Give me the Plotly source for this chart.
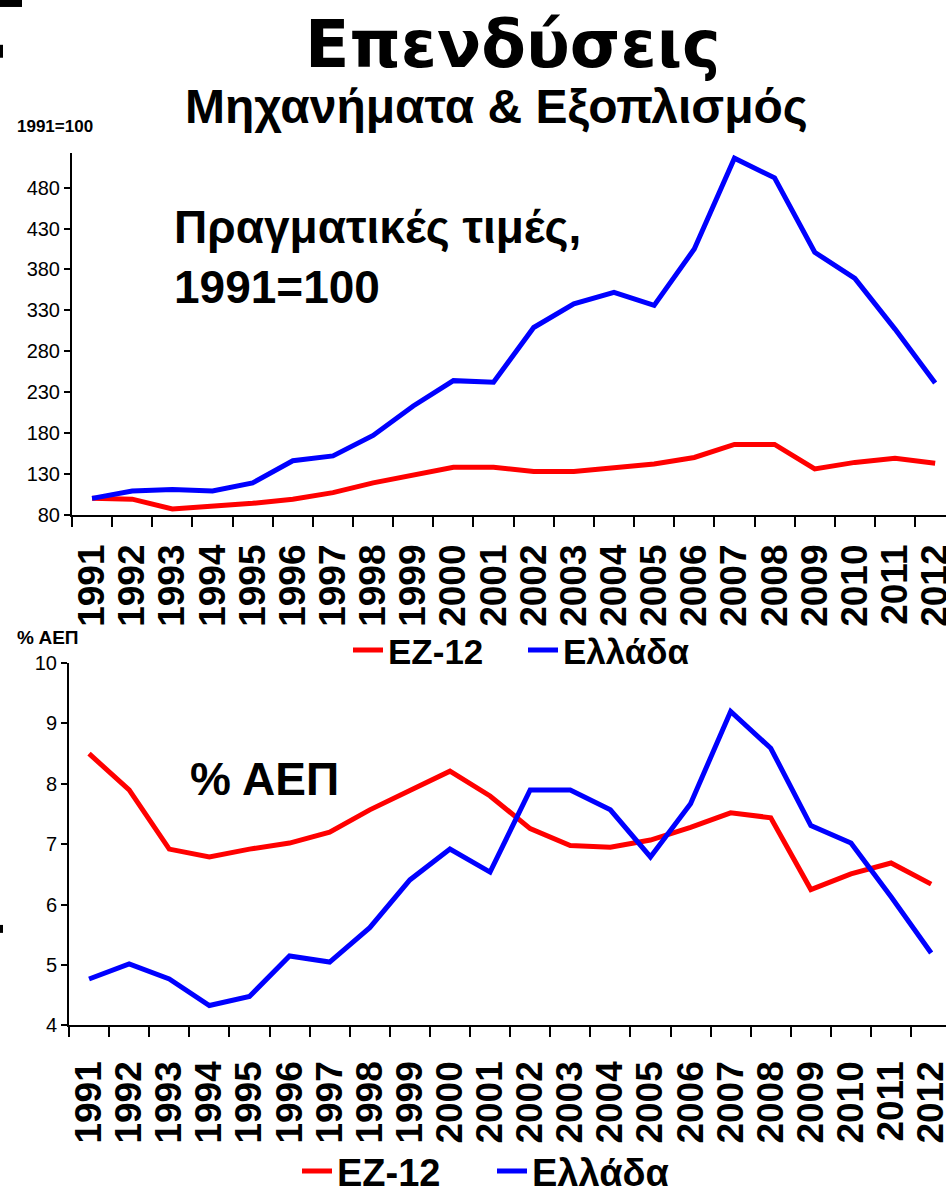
import plotly.graph_objects as go

W, H = 946, 1203

years = [str(y) for y in range(1991, 2013)]

# Real values, 1991=100
ez_index = [100, 99, 87, 90, 94, 99, 107, 119, 128, 138, 138, 133, 133, 138, 142, 150, 166, 166, 136, 144, 149, 143]
gr_index = [100, 109, 111, 109, 119, 146, 152, 177, 213, 244, 242, 309, 338, 352, 336, 405, 516, 492, 401, 369, 307, 241]

# % of GDP
ez_gdp = [8.5, 7.9, 6.92, 6.79, 6.92, 7.02, 7.2, 7.57, 7.89, 8.21, 7.8, 7.26, 6.98, 6.95, 7.07, 7.28, 7.52, 7.44, 6.25, 6.51, 6.69, 6.34]
gr_gdp = [4.77, 5.02, 4.77, 4.33, 4.48, 5.15, 5.05, 5.62, 6.41, 6.92, 6.54, 7.9, 7.9, 7.57, 6.79, 7.67, 9.2, 8.59, 7.31, 7.02, 6.13, 5.2]

names = ['ΕΖ-12', 'Ελλάδα']
colors = ['#ff0000', '#0000ff']

FONT = 'Liberation Sans, Arial, sans-serif'

# the captured page comes out slightly squeezed vertically, so stretch y positions to match
YK = 1219 / 1203


def px(x):
    return x / W


def py(y):
    return max(0.0, 1 - y * YK / H)


fig = go.Figure()
for name, color, vals in zip(names, colors, [ez_index, gr_index]):
    fig.add_trace(go.Scatter(x=years, y=vals, name=name, mode='lines',
                             line=dict(color=color, width=5),
                             xaxis='x', yaxis='y', legend='legend'))
for name, color, vals in zip(names, colors, [ez_gdp, gr_gdp]):
    fig.add_trace(go.Scatter(x=years, y=vals, name=name, mode='lines',
                             line=dict(color=color, width=5),
                             xaxis='x2', yaxis='y2', legend='legend2'))

xcommon = dict(type='category', tickmode='array', tickvals=years, ticktext=years,
               tickson='boundaries', ticks='outside', ticklen=10,
               tickwidth=2, tickcolor='black', showline=True, linecolor='black', linewidth=2,
               showgrid=False, zeroline=False, tickangle=-90, automargin=False,
               tickfont=dict(family=FONT, size=37, color='black', weight='bold'))
ycommon = dict(ticks='outside', ticklen=6, tickwidth=2, tickcolor='black', showline=True,
               linecolor='black', linewidth=2, showgrid=False, zeroline=False, automargin=False,
               tickfont=dict(family=FONT, size=20, color='black'))

fig.update_layout(
    width=W, height=H,
    margin=dict(l=0, r=0, t=0, b=0),
    paper_bgcolor='white', plot_bgcolor='white',
    showlegend=True,
    xaxis=dict(xcommon, domain=[px(72), 1], range=[-0.5, 21.27], anchor='y', ticklabelstandoff=13),
    yaxis=dict(ycommon, domain=[py(517), py(154)], range=[80, 522], tick0=80, dtick=50, anchor='x'),
    xaxis2=dict(xcommon, domain=[px(69), 1], range=[-0.5, 21.37], anchor='y2', ticklabelstandoff=19),
    yaxis2=dict(ycommon, domain=[py(1030), py(666)], range=[4, 10], dtick=1, anchor='x2'),
    legend=dict(orientation='h', x=px(348), xanchor='left', y=py(653), yanchor='middle',
                entrywidth=130, font=dict(family=FONT, size=35, color='black', weight='bold'),
                bgcolor='rgba(0,0,0,0)'),
    legend2=dict(orientation='h', x=px(297), xanchor='left', y=1 - 1192 / H, yanchor='middle',
                 entrywidth=150, font=dict(family=FONT, size=38, color='black', weight='bold'),
                 bgcolor='rgba(0,0,0,0)'),
)

annotations = [
    dict(text='<b>Επενδύσεις</b>', x=px(513), y=py(45), font=dict(family='DejaVu Sans', size=65)),
    dict(text='<b>Μηχανήματα & Εξοπλισμός</b>', x=px(497), y=py(107), font=dict(family=FONT, size=48)),
    dict(text='<b>1991=100</b>', x=px(15), y=py(127), xanchor='left', font=dict(family=FONT, size=17)),
    dict(text='<b>Πραγματικές τιμές,<br>1991=100</b>', x=px(172), y=py(258), xanchor='left', align='left',
         font=dict(family=FONT, size=46)),
    dict(text='<b>% ΑΕΠ</b>', x=px(15), y=py(640), xanchor='left', font=dict(family=FONT, size=19)),
    dict(text='<b>% ΑΕΠ</b>', x=px(188), y=py(782), xanchor='left', font=dict(family=FONT, size=46)),
]
for a in annotations:
    a.setdefault('xanchor', 'center')
    a['font'].setdefault('color', 'black')
    fig.add_annotation(xref='paper', yref='paper', yanchor='middle', showarrow=False, **a)

# cropped slide artefacts on the left edge
for x0, y0, x1, y1 in [(0, 0, 22, 7), (0, 45, 3, 58), (0, 929, 3, 937)]:
    fig.add_shape(type='rect', xref='paper', yref='paper', x0=px(x0), x1=px(x1), y0=py(y1), y1=py(y0),
                  fillcolor='black', line=dict(width=0))

fig.write_html('out.html', config={'displayModeBar': False},
               post_script="document.body.style.margin='0';")
